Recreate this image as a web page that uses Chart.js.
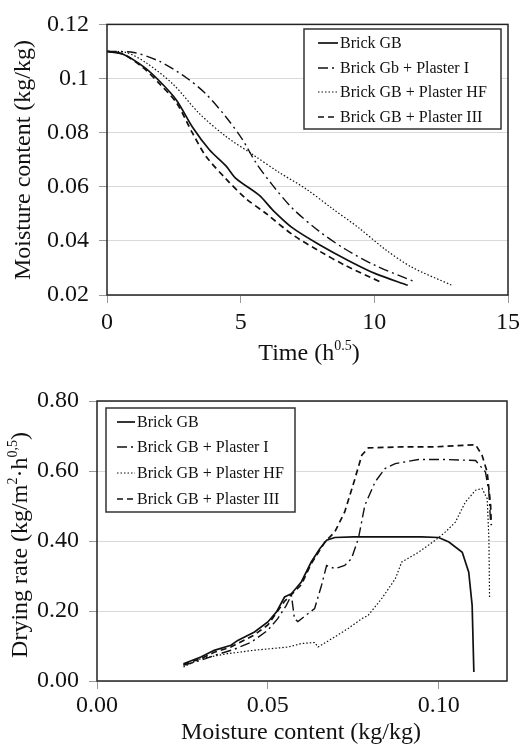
<!DOCTYPE html>
<html>
<head>
<meta charset="utf-8">
<script src="https://cdn.jsdelivr.net/npm/chart.js@4/dist/chart.umd.min.js"></script>
<style>
  html, body { margin: 0; padding: 0; background: #fff; }
  body { width: 525px; height: 744px; position: relative; overflow: hidden; font-family: "Liberation Serif", "Times New Roman", serif; color: #111; }
  .box { position: absolute; left: 0; width: 525px; height: 372px; }
  .title { position: absolute; font-size: 24px; white-space: nowrap; line-height: 1; }
  .title sup { font-size: 14px; vertical-align: 0; position: relative; top: -10px; }
  .ytitle { transform: translate(-50%, -50%) rotate(-90deg); }
  .xtitle { transform: translate(-50%, -50%); }
</style>
</head>
<body>
<div class="box" style="top:0"><canvas id="timeChart"></canvas></div>
<div class="box" style="top:372px"><canvas id="rateChart"></canvas></div>

<div class="title ytitle" style="left:22px; top:160px">Moisture content (kg/kg)</div>
<div class="title xtitle" style="left:309px; top:352px">Time (h<sup>0.5</sup>)</div>
<div class="title ytitle" style="left:19px; top:545px">Drying rate (kg/m<sup>2</sup>·h<sup>0,5</sup>)</div>
<div class="title xtitle" style="left:301px; top:731px">Moisture content (kg/kg)</div>

<script>
// ---- data: moisture content vs sqrt(time) ----
const seriesNames = ['Brick GB', 'Brick Gb + Plaster I', 'Brick GB + Plaster HF', 'Brick GB + Plaster III'];
const seriesNamesRate = ['Brick GB', 'Brick GB + Plaster I', 'Brick GB + Plaster HF', 'Brick GB + Plaster III'];

const timeBrick = [0, 0.6, 1.35, 1.97, 2.6, 3.2, 3.83, 4.45, 4.83, 5.7, 6.2, 6.94, 7.93, 9.04, 10.04, 11.25];
const mcBrick = [0.110, 0.109, 0.1045, 0.099, 0.092, 0.082, 0.0737, 0.0677, 0.063, 0.0568, 0.0514, 0.0448, 0.0387, 0.0327, 0.0279, 0.0236];

const timeP1 = [0, 1.0, 1.97, 2.97, 3.7, 4.45, 5.07, 5.57, 6.2, 6.94, 7.93, 8.92, 10.04, 11.53];
const mcP1 = [0.110, 0.1096, 0.1063, 0.1003, 0.0943, 0.0858, 0.0774, 0.0689, 0.0605, 0.052, 0.0436, 0.0369, 0.0309, 0.0248];

const timeHF = [0, 0.73, 1.48, 2.47, 3.46, 4.45, 5.45, 6.44, 7.43, 8.42, 9.42, 10.4, 11.4, 12.9];
const mcHF = [0.110, 0.1096, 0.1057, 0.0979, 0.087, 0.0786, 0.0719, 0.0653, 0.0593, 0.052, 0.0448, 0.0369, 0.0303, 0.0236];

const timeP3 = [0, 0.6, 1.35, 1.97, 2.6, 3.2, 3.7, 4.45, 5.2, 5.94, 6.94, 7.93, 8.92, 10.3];
const mcP3 = [0.110, 0.109, 0.104, 0.098, 0.091, 0.0798, 0.0713, 0.0629, 0.0556, 0.0502, 0.0423, 0.0363, 0.0309, 0.0245];

// ---- data: drying rate vs moisture content ----
const mcRateBrick = [0.0253, 0.0304, 0.0343, 0.0392, 0.0412, 0.0461, 0.05, 0.0525, 0.0549, 0.0569, 0.0598, 0.0627, 0.0652, 0.0672, 0.0696, 0.075, 0.08, 0.085, 0.09, 0.095, 0.1, 0.103, 0.1069, 0.1088, 0.1098, 0.1103];
const rateBrick = [0.0495, 0.0686, 0.0876, 0.102, 0.116, 0.14, 0.1686, 0.197, 0.24, 0.2495, 0.283, 0.34, 0.378, 0.402, 0.41, 0.412, 0.412, 0.412, 0.412, 0.412, 0.41, 0.397, 0.368, 0.311, 0.216, 0.026];

const mcRateP1 = [0.0253, 0.03, 0.035, 0.04, 0.045, 0.05, 0.0529, 0.0554, 0.0569, 0.0578, 0.0588, 0.0637, 0.0657, 0.0672, 0.0696, 0.0725, 0.0745, 0.0765, 0.0784, 0.0814, 0.0843, 0.0873, 0.0941, 0.101, 0.1108, 0.1137, 0.1147, 0.1152];
const rateP1 = [0.045, 0.058, 0.075, 0.09, 0.11, 0.145, 0.178, 0.216, 0.245, 0.178, 0.17, 0.207, 0.273, 0.33, 0.321, 0.33, 0.35, 0.407, 0.502, 0.569, 0.607, 0.621, 0.633, 0.633, 0.63, 0.597, 0.54, 0.454];

const mcRateHF = [0.0253, 0.0304, 0.0382, 0.0461, 0.0559, 0.0598, 0.0637, 0.0647, 0.0696, 0.0735, 0.0775, 0.0794, 0.0833, 0.0873, 0.0892, 0.0941, 0.099, 0.102, 0.1049, 0.1078, 0.1108, 0.1127, 0.1142, 0.1147, 0.1149];
const rateHF = [0.04, 0.064, 0.078, 0.088, 0.097, 0.107, 0.11, 0.097, 0.126, 0.15, 0.178, 0.188, 0.235, 0.292, 0.34, 0.368, 0.402, 0.426, 0.454, 0.511, 0.545, 0.55, 0.521, 0.407, 0.235];

const mcRateP3 = [0.0253, 0.0304, 0.0343, 0.0392, 0.0461, 0.05, 0.0549, 0.0598, 0.0627, 0.0667, 0.0696, 0.0725, 0.0755, 0.0775, 0.0794, 0.0892, 0.099, 0.1108, 0.1127, 0.1142, 0.1152, 0.1154];
const rateP3 = [0.047, 0.064, 0.082, 0.097, 0.132, 0.16, 0.228, 0.275, 0.335, 0.397, 0.426, 0.483, 0.578, 0.645, 0.666, 0.669, 0.669, 0.675, 0.645, 0.597, 0.502, 0.445];

const timeTicks = [0, 5, 10, 15];
const mcTicks = [0.00, 0.05, 0.10];

// line styles for the four series (same order in both charts)
const lineStyles = [
    { dash: [], width: 1.7 },
    { dash: [10, 4, 2, 4], width: 1.4 },
    { dash: [1.5, 2], width: 1.2 },
    { dash: [6, 4], width: 1.7 }
];

const toPoints = (xs, ys) => xs.map((x, i) => ({ x: x, y: ys[i] }));

function makeDatasets(names, pairs, tension) {
    return names.map((name, i) => ({
        label: name,
        data: toPoints(pairs[i][0], pairs[i][1]),
        borderColor: '#111',
        borderWidth: lineStyles[i].width,
        borderDash: lineStyles[i].dash,
        pointRadius: 0,
        fill: false,
        tension: tension
    }));
}

// frame around the plot area + boxed legend
const framePlugin = {
    id: 'frameLegend',
    afterDatasetsDraw(chart, args, opts) {
        const ctx = chart.ctx;
        const a = chart.chartArea;
        ctx.save();
        ctx.strokeStyle = '#222';
        ctx.lineWidth = 1.5;
        ctx.setLineDash([]);
        ctx.strokeRect(a.left, a.top, a.right - a.left, a.bottom - a.top);

        // legend
        const lg = opts;
        ctx.fillStyle = '#fff';
        ctx.fillRect(lg.x, lg.y, lg.w, lg.h);
        ctx.lineWidth = 1.5;
        ctx.strokeStyle = '#333';
        ctx.strokeRect(lg.x, lg.y, lg.w, lg.h);
        ctx.font = '16px "Liberation Serif", serif';
        ctx.textBaseline = 'middle';
        ctx.fillStyle = '#111';
        chart.data.datasets.forEach((ds, i) => {
            const yy = lg.rowY[i];
            ctx.beginPath();
            ctx.setLineDash(ds.borderDash);
            ctx.lineWidth = ds.borderWidth;
            ctx.strokeStyle = '#111';
            ctx.moveTo(lg.sx1, yy);
            ctx.lineTo(lg.sx2, yy);
            ctx.stroke();
            ctx.setLineDash([]);
            ctx.fillText(ds.label, lg.tx, yy + 1);
        });
        ctx.restore();
    }
};

const tickFont = { family: '"Liberation Serif", serif', size: 24 };

new Chart('timeChart', {
    type: 'line',
    data: {
        datasets: makeDatasets(seriesNames, [[timeBrick, mcBrick], [timeP1, mcP1], [timeHF, mcHF], [timeP3, mcP3]], 0.3)
    },
    options: {
        responsive: true,
        maintainAspectRatio: false,
        animation: false,
        layout: { padding: { top: 19, right: 12, left: 0, bottom: 0 } },
        plugins: {
            legend: { display: false },
            tooltip: { enabled: false },
            frameLegend: { x: 304, y: 29, w: 197, h: 100, rowY: [43, 68, 92, 117], sx1: 318, sx2: 338, tx: 340 }
        },
        scales: {
            x: {
                type: 'linear', min: 0, max: 15,
                afterBuildTicks: s => { s.ticks = timeTicks.map(v => ({ value: v })); },
                afterFit: s => { s.height = 77; },
                grid: { drawOnChartArea: false, tickLength: 8, tickColor: '#999' },
                border: { display: false },
                ticks: { font: tickFont, color: '#111', padding: 5, maxRotation: 0 }
            },
            y: {
                min: 0.02, max: 0.12,
                ticks: { stepSize: 0.02, font: tickFont, color: '#111', padding: 10, callback: v => String(+v.toFixed(2)) },
                afterFit: s => { s.width = 107; },
                grid: { color: '#d9d9d9', tickLength: 8, tickColor: '#999' },
                border: { display: false }
            }
        }
    },
    plugins: [framePlugin]
});

new Chart('rateChart', {
    type: 'line',
    data: {
        datasets: makeDatasets(seriesNamesRate, [[mcRateBrick, rateBrick], [mcRateP1, rateP1], [mcRateHF, rateHF], [mcRateP3, rateP3]], 0)
    },
    options: {
        responsive: true,
        maintainAspectRatio: false,
        animation: false,
        layout: { padding: { top: 29, right: 18, left: 0, bottom: 0 } },
        plugins: {
            legend: { display: false },
            tooltip: { enabled: false },
            frameLegend: { x: 106, y: 36, w: 189, h: 104, rowY: [50, 75, 101, 127], sx1: 117, sx2: 135, tx: 137 }
        },
        scales: {
            x: {
                type: 'linear', min: 0, max: 0.12,
                afterBuildTicks: s => { s.ticks = mcTicks.map(v => ({ value: v })); },
                afterFit: s => { s.height = 63; },
                grid: { drawOnChartArea: false, tickLength: 8, tickColor: '#999' },
                border: { display: false },
                ticks: { font: tickFont, color: '#111', padding: 2, maxRotation: 0, callback: v => v.toFixed(2) }
            },
            y: {
                min: 0, max: 0.8,
                ticks: { stepSize: 0.2, font: tickFont, color: '#111', padding: 10, callback: v => v.toFixed(2) },
                afterFit: s => { s.width = 97; },
                grid: { color: '#d9d9d9', tickLength: 8, tickColor: '#999' },
                border: { display: false }
            }
        }
    },
    plugins: [framePlugin]
});
</script>
</body>
</html>
